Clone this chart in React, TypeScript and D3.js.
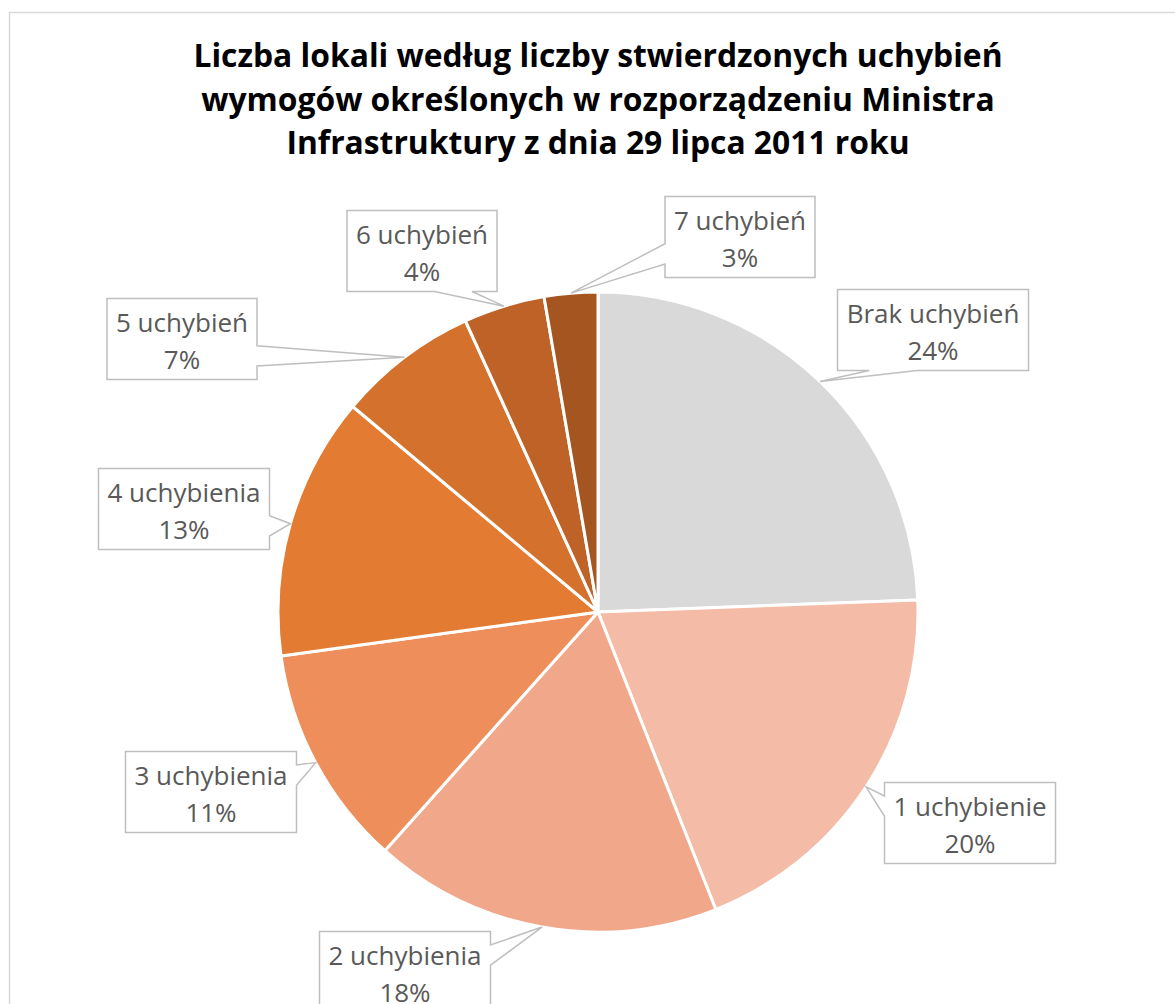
import React, { useEffect, useRef } from 'react';
import * as d3 from 'd3';

const titleLines = [
  'Liczba lokali według liczby stwierdzonych uchybień',
  'wymogów określonych w rozporządzeniu Ministra',
  'Infrastruktury z dnia 29 lipca 2011 roku',
];
const categories = [
  'Brak uchybień',
  '1 uchybienie',
  '2 uchybienia',
  '3 uchybienia',
  '4 uchybienia',
  '5 uchybień',
  '6 uchybień',
  '7 uchybień',
];
const shares = [24.4, 19.6, 17.6, 11.2, 13.3, 7.1, 4.1, 2.7];
const colors = ['#d9d9d9', '#f4bba6', '#f0a78a', '#ee8f5b', '#e47b33', '#d4722d', '#be6227', '#a55620'];
// where each callout box sits (centre), picked to match the reference layout
const labelCenters: [number, number][] = [
  [933, 330], [970, 823], [405, 972], [211, 792],
  [184, 509], [182, 339], [422, 251], [740, 237],
];

const W = 1175;
const H = 1004;

const App = () => {
  const svgRef = useRef<SVGSVGElement>(null);

  useEffect(() => {
    const svg = d3.select(svgRef.current);
    svg.selectAll('*').remove();

    const cx = 598;
    const cy = 612;
    const radius = 320;

    // chart frame
    svg.append('rect')
      .attr('x', 9.5).attr('y', 12.5)
      .attr('width', 1178).attr('height', 1100)
      .attr('fill', '#fff').attr('stroke', '#d9d9d9').attr('stroke-width', 1.5);

    // title
    svg.append('text')
      .attr('x', cx).attr('y', 67)
      .attr('text-anchor', 'middle')
      .style('font-family', '"Open Sans", sans-serif')
      .style('font-weight', 700)
      .style('font-size', '31.8px')
      .attr('fill', '#000')
      .selectAll('tspan')
      .data(titleLines)
      .join('tspan')
      .attr('x', cx)
      .attr('dy', (d, i) => (i === 0 ? 0 : 43.5))
      .text(d => d);

    const pie = d3.pie<number>().sort(null).value(d => d);
    const arcs = pie(shares);
    const arc = d3.arc<d3.PieArcDatum<number>>().innerRadius(0).outerRadius(radius);

    const g = svg.append('g').attr('transform', `translate(${cx},${cy})`);
    g.selectAll('path')
      .data(arcs)
      .join('path')
      .attr('d', arc)
      .attr('fill', (d, i) => colors[i])
      .attr('stroke', '#fff')
      .attr('stroke-width', 3)
      .attr('stroke-linejoin', 'round');

    const total = d3.sum(shares);

    arcs.forEach((a, i) => {
      const mid = (a.startAngle + a.endAngle) / 2;
      const tipX = cx + radius * Math.sin(mid);
      const tipY = cy - radius * Math.cos(mid);
      const [bx, by] = labelCenters[i];

      const lg = svg.append('g');
      const t = lg.append('text')
        .attr('text-anchor', 'middle')
        .style('font-family', '"Open Sans", sans-serif')
        .style('font-size', '26px')
        .attr('fill', '#595959');
      t.append('tspan').attr('x', bx).attr('y', by - 7).text(categories[i]);
      t.append('tspan').attr('x', bx).attr('y', by + 30).text(Math.round((shares[i] / total) * 100) + '%');

      const tw = (t.node() as SVGTextElement).getBBox().width;
      const w = Math.round(tw + 18);
      const h = 81;
      const l = bx - w / 2, r = bx + w / 2, tp = by - h / 2, b = by + h / 2;

      const dx = (tipX - bx) / w;
      const dy = (tipY - by) / h;
      let p = '';
      if (Math.abs(dx) > Math.abs(dy)) {
        const y1 = dy < 0 ? tp + h * 2 / 12 : tp + h * 7 / 12;
        const y2 = dy < 0 ? tp + h * 5 / 12 : tp + h * 10 / 12;
        if (dx < 0) {
          p = `M${l},${tp}L${r},${tp}L${r},${b}L${l},${b}L${l},${y2}L${tipX},${tipY}L${l},${y1}Z`;
        } else {
          p = `M${l},${tp}L${r},${tp}L${r},${y1}L${tipX},${tipY}L${r},${y2}L${r},${b}L${l},${b}Z`;
        }
      } else {
        const x1 = dx < 0 ? l + w * 2 / 12 : l + w * 7 / 12;
        const x2 = dx < 0 ? l + w * 5 / 12 : l + w * 10 / 12;
        if (dy > 0) {
          p = `M${l},${tp}L${r},${tp}L${r},${b}L${x2},${b}L${tipX},${tipY}L${x1},${b}L${l},${b}Z`;
        } else {
          p = `M${l},${tp}L${x1},${tp}L${tipX},${tipY}L${x2},${tp}L${r},${tp}L${r},${b}L${l},${b}Z`;
        }
      }
      lg.insert('path', 'text')
        .attr('d', p)
        .attr('fill', '#fff')
        .attr('stroke', '#bfbfbf')
        .attr('stroke-width', 1.5);
    });
  }, []);

  return (
    <svg
      ref={svgRef}
      width={W}
      height={H}
      style={{ position: 'absolute', left: 0, top: 0, background: '#fff' }}
    />
  );
};

export default App;
